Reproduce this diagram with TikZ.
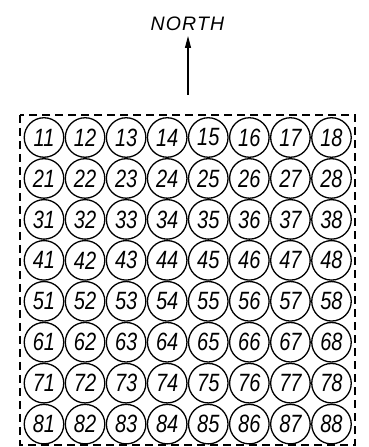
\documentclass[tikz,border=0pt]{standalone}
\usepackage{fontspec}
\setsansfont{Liberation Sans}
\usetikzlibrary{arrows.meta}
\tikzset{
  cell/.style={circle, draw, line width=1.3pt, minimum size=39.5pt, inner sep=0pt,
    font=\fontsize{25}{25}\selectfont\sffamily\itshape\addfontfeatures{FakeStretch=0.8}},
  frame/.style={draw, line width=1.1pt, dash pattern=on 8pt off 5pt},
  northlabel/.style={inner sep=0pt, font=\fontsize{19.5}{19.5}\selectfont\sffamily\itshape\addfontfeatures{LetterSpace=6}},
  northarrow/.style={line width=1.1pt, -{Triangle[length=12pt,width=6pt]}}
}
\begin{document}
\begin{tikzpicture}[x=1pt,y=1pt]
\useasboundingbox (0,0) rectangle (368,447);
% frame
\coordinate (tl) at (20,332);
\coordinate (br) at (355,2);
\draw[frame] (tl) rectangle (br);
% north
\node[northlabel] (north) at (187.5,423.3) {NORTH};
\coordinate (tail) at (188,352);
\draw[northarrow] (tail) -- (188,411);
% cells
\foreach \i in {1,...,8}{
  \foreach \j in {1,...,8}{
    \node[cell] (c\i\j) at ({44+(\j-1)*41.07},{447-(137.5+(\i-1)*40.95)}) {\i\j};
  }
}
\end{tikzpicture}
\end{document}
